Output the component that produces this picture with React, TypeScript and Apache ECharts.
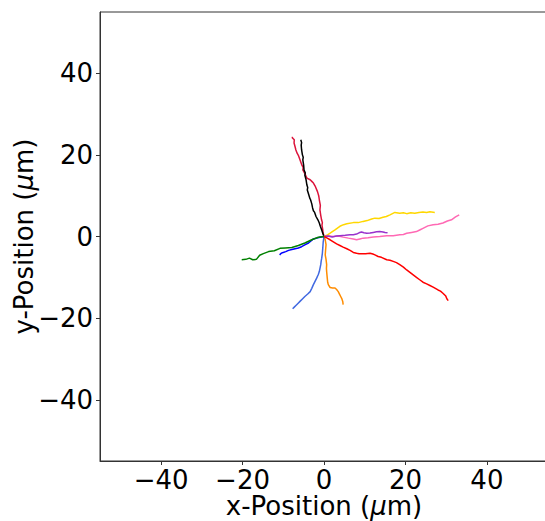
import React, { useEffect, useRef } from "react";
import * as echarts from "echarts";

const tickValues = [-40, -20, 0, 20, 40];
const axisMin = -55;
const axisMax = 55;

const crimsonPath = [[0,0],[-0.2,0.8],[-0.3,1.6],[-0.5,2.8],[-0.4,3.4],[-0.6,4.1],[-0.8,5.2],[-1.0,6.5],[-0.9,7.6],[-1.15,9.0],[-1.3,10.0],[-1.6,11.0],[-2.1,12.2],[-2.6,13.1],[-3.0,13.5],[-3.4,13.9],[-4.2,14.3],[-4.6,15.2],[-5.2,16.3],[-5.1,16.9],[-5.4,17.4],[-5.9,18.8],[-6.3,19.9],[-6.6,20.4],[-6.9,21.2],[-7.1,22.0],[-7.35,22.9],[-7.3,23.7],[-7.8,24.2],[-7.7,24.4]];
const blackPath = [[0,0],[-0.3,0.8],[-0.56,1.6],[-0.9,2.5],[-1.15,3.3],[-1.5,4.1],[-1.96,4.9],[-2.3,5.9],[-2.6,6.3],[-2.8,7.0],[-3.0,8.0],[-3.3,9.0],[-3.5,9.4],[-3.7,10.1],[-4.1,11.4],[-4.0,12.0],[-4.2,12.6],[-4.4,13.9],[-4.7,15.0],[-4.6,15.6],[-4.9,16.3],[-5.0,17.5],[-5.2,18.8],[-5.1,19.4],[-5.3,20.0],[-5.5,21.2],[-5.6,22.4],[-5.5,23.0],[-5.7,23.7]];
const goldPath = [[0,0],[0.7,0.3],[1.5,0.8],[2.7,1.6],[3.9,2.5],[4.8,2.9],[5.6,3.1],[7.2,3.4],[8.4,3.4],[9.6,3.7],[10.6,3.9],[11.7,4.3],[12.5,4.5],[13.5,4.4],[14.5,4.7],[15.3,4.9],[16.2,5.3],[17.4,5.9],[18.6,5.7],[19.5,5.8],[20.3,5.6],[21.3,5.8],[22.3,5.7],[23.3,5.9],[24.3,6.0],[25.2,5.9],[26.0,6.05],[27.2,5.9]];
const pinkPath = [[0,0],[1.2,0.1],[2.3,0],[3.5,0.1],[4.7,-0.15],[6.0,-0.4],[7.2,-0.6],[8.0,-0.8],[8.8,-0.6],[9.6,-0.4],[10.8,-0.3],[12.1,-0.15],[13.7,0],[15.4,0.2],[17.0,0.2],[18.6,0.4],[19.5,0.5],[20.3,0.8],[21.5,1.0],[22.7,1.2],[23.5,1.6],[24.3,2.0],[25.5,2.6],[26.8,2.9],[28.0,3.0],[29.2,3.3],[30.3,3.8],[31.3,4.1],[32.3,4.8],[33.2,5.3]];
const purplePath = [[0,0],[1.0,0.1],[2.0,-0.1],[3.0,0.1],[3.9,0.2],[5.2,0.3],[6.4,0.4],[7.2,0.45],[8.0,0.6],[8.6,0.9],[9.2,1.1],[9.8,0.9],[10.5,0.8],[11.3,0.85],[12.1,1.0],[12.9,1.15],[13.7,1.2],[14.5,1.1],[15.0,1.0],[15.6,0.9]];
const redPath = [[0,0],[0.8,-0.4],[1.5,-0.8],[2.3,-1.3],[3.1,-1.8],[3.9,-2.2],[4.7,-2.6],[5.6,-3.0],[6.4,-3.4],[7.2,-3.9],[8.0,-4.1],[8.6,-4.2],[9.2,-4.2],[10.2,-4.2],[11.3,-4.1],[12.0,-4.3],[12.5,-4.5],[13.3,-4.9],[14.1,-5.1],[15.4,-5.7],[16.2,-5.8],[17.0,-6.1],[17.8,-6.4],[18.6,-6.9],[19.5,-7.5],[20.3,-8.2],[21.1,-8.8],[21.9,-9.4],[22.7,-10.0],[23.5,-10.6],[24.3,-11.2],[25.2,-11.6],[26.0,-12.0],[26.8,-12.4],[28.0,-13.1],[28.6,-13.4],[29.2,-13.9],[29.9,-14.6],[30.2,-15.3],[30.5,-15.7]];
const orangePath = [[0,0],[0.3,-0.8],[0.5,-2.0],[0.4,-3.2],[0.3,-4.5],[0.5,-5.6],[0.65,-6.9],[0.6,-7.8],[0.65,-8.6],[0.8,-10.2],[0.9,-11.2],[1.06,-11.8],[1.5,-12.5],[2.1,-12.6],[2.7,-12.6],[3.1,-13.0],[3.5,-13.5],[3.8,-14.1],[4.1,-14.7],[4.4,-15.3],[4.6,-15.9],[4.7,-16.7]];
const royalBluePath = [[0,0],[-0.2,-1.4],[-0.3,-2.8],[-0.4,-4.1],[-0.56,-5.3],[-0.7,-6.1],[-0.8,-6.9],[-1.15,-8.6],[-1.4,-9.3],[-1.8,-10.2],[-2.2,-11.0],[-2.6,-11.8],[-3.0,-12.7],[-3.4,-13.5],[-4.0,-14.1],[-4.7,-14.7],[-5.3,-15.3],[-5.9,-15.9],[-6.4,-16.4],[-6.9,-16.9],[-7.3,-17.3],[-7.7,-17.7]];
const bluePath = [[0,0],[-1.0,-0.2],[-1.8,-0.4],[-2.6,-0.6],[-3.2,-1.1],[-3.8,-1.6],[-4.6,-2.0],[-5.5,-2.5],[-6.3,-2.8],[-7.1,-3.0],[-7.9,-3.2],[-8.7,-3.4],[-9.4,-3.7],[-10.0,-3.9],[-10.5,-4.1],[-10.9,-4.5]];
const greenPath = [[0,0],[-1.4,-0.2],[-3.0,-0.8],[-4.7,-1.6],[-6.3,-2.2],[-7.9,-2.7],[-9.5,-2.8],[-10.8,-2.9],[-12.2,-3.5],[-13.6,-3.7],[-14.9,-4.2],[-15.8,-4.6],[-16.6,-5.6],[-17.5,-5.7],[-18.3,-5.3],[-19.2,-5.6],[-20.2,-5.7]];

const trajectories = [
  { name: "crimson", color: "#DC143C", data: crimsonPath },
  { name: "black", color: "#000000", data: blackPath },
  { name: "gold", color: "#FFD700", data: goldPath },
  { name: "pink", color: "#FF69B4", data: pinkPath },
  { name: "purple", color: "#9932CC", data: purplePath },
  { name: "orange", color: "#FF8C00", data: orangePath },
  { name: "royalblue", color: "#4169E1", data: royalBluePath },
  { name: "blue", color: "#0000FF", data: bluePath },
  { name: "green", color: "#008000", data: greenPath },
  { name: "red", color: "#FF0000", data: redPath },
];

const FONT = "DejaVu Sans";
const fmt = (v: number) => (v < 0 ? "\u2212" + Math.abs(v) : String(v));

export default function App() {
  const ref = useRef<HTMLDivElement>(null);
  useEffect(() => {
    if (!ref.current) return;
    const chart = echarts.init(ref.current, undefined, { renderer: "svg" });
    const axisCommon = {
      type: "value",
      min: axisMin,
      max: axisMax,
      splitLine: { show: false },
      axisLine: { show: true, onZero: false, lineStyle: { color: "#333", width: 1 } },
      axisTick: { show: true, length: 4, lineStyle: { color: "#333", width: 1 }, customValues: tickValues },
      axisLabel: { color: "#000", fontSize: 26, fontFamily: FONT, formatter: fmt, customValues: tickValues },
      nameLocation: "middle",
      nameMoveOverlap: false,
      nameTextStyle: {
        color: "#000",
        fontSize: 26,
        fontFamily: FONT,
        rich: { mu: { fontStyle: "italic", fontSize: 26, fontFamily: FONT, color: "#000" } },
      },
    };
    chart.setOption({
      animation: false,
      backgroundColor: "#fff",
      grid: {
        left: 100, top: 12, width: 448, height: 449,
        show: true, borderColor: "#333", borderWidth: 1,
        containLabel: false, outerBoundsMode: "none",
      },
      xAxis: {
        ...axisCommon,
        name: "x-Position ({mu|μ}m)",
        nameGap: 32,
        axisLabel: { ...axisCommon.axisLabel, lineHeight: 24, margin: 7 },
      },
      yAxis: { ...axisCommon, name: "y-Position ({mu|μ}m)", nameGap: 63, axisLabel: { ...axisCommon.axisLabel, margin: 7 } },
      series: trajectories.map((t) => ({
        type: "line",
        name: t.name,
        data: t.data,
        showSymbol: false,
        symbol: "none",
        lineStyle: { color: t.color, width: 1.5 },
        itemStyle: { color: t.color },
      })),
    });
    return () => chart.dispose();
  }, []);
  return <div ref={ref} style={{ position: "fixed", left: 0, top: 0, width: 545, height: 521 }} />;
}
